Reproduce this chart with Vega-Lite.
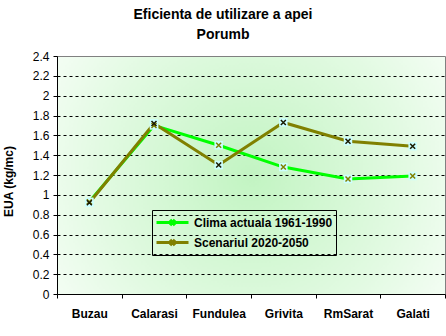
{
  "$schema": "https://vega.github.io/schema/vega-lite/v6.json",
  "autosize": "none",
  "width": 388,
  "height": 238,
  "padding": {"left": 57, "top": 56, "right": 1, "bottom": 42},
  "background": "white",
  "title": {
    "text": ["Eficienta de utilizare a apei", "Porumb"],
    "font": "Liberation Sans",
    "fontSize": 14,
    "fontWeight": "bold",
    "lineHeight": 20,
    "anchor": "middle",
    "dx": -28,
    "offset": 8,
    "color": "black"
  },
  "config": {
    "font": "Liberation Sans",
    "view": {
      "stroke": "#808080",
      "strokeWidth": 1,
      "fill": {
        "gradient": "radial",
        "x1": 0.5, "y1": 0.5, "x2": 0.5, "y2": 0.5,
        "r1": 0, "r2": 0.72,
        "stops": [
          {"offset": 0, "color": "#c2f4c2"},
          {"offset": 0.55, "color": "#e2fae2"},
          {"offset": 1, "color": "#ffffff"}
        ]
      }
    }
  },
  "data": {
    "values": [
      {"site": "Buzau", "series": "Clima actuala 1961-1990", "value": 0.93},
      {"site": "Calarasi", "series": "Clima actuala 1961-1990", "value": 1.70},
      {"site": "Fundulea", "series": "Clima actuala 1961-1990", "value": 1.50},
      {"site": "Grivita", "series": "Clima actuala 1961-1990", "value": 1.28},
      {"site": "RmSarat", "series": "Clima actuala 1961-1990", "value": 1.16},
      {"site": "Galati", "series": "Clima actuala 1961-1990", "value": 1.19},
      {"site": "Buzau", "series": "Scenariul 2020-2050", "value": 0.92},
      {"site": "Calarasi", "series": "Scenariul 2020-2050", "value": 1.72},
      {"site": "Fundulea", "series": "Scenariul 2020-2050", "value": 1.30},
      {"site": "Grivita", "series": "Scenariul 2020-2050", "value": 1.73},
      {"site": "RmSarat", "series": "Scenariul 2020-2050", "value": 1.54},
      {"site": "Galati", "series": "Scenariul 2020-2050", "value": 1.49}
    ]
  },
  "encoding": {
    "x": {
      "field": "site",
      "type": "nominal",
      "sort": null,
      "bandPosition": 0.5,
      "scale": {"type": "band", "paddingInner": 0, "paddingOuter": 0},
      "axis": {
        "title": null,
        "labelAngle": 0,
        "labelFont": "Liberation Sans",
        "labelFontSize": 12,
        "labelFontWeight": "bold",
        "labelColor": "black",
        "labelPadding": 10,
        "tickBand": "extent",
        "ticks": true,
        "tickSize": 4,
        "tickColor": "black",
        "domainColor": "black",
        "grid": false
      }
    },
    "y": {
      "field": "value",
      "type": "quantitative",
      "scale": {"domain": [0, 2.4], "nice": false},
      "axis": {
        "title": "EUA (kg/mc)",
        "titleFont": "Liberation Sans",
        "titleFontSize": 12,
        "titleFontWeight": "bold",
        "titleColor": "black",
        "titleX": -42,
        "titleY": 125,
        "values": [0, 0.2, 0.4, 0.6, 0.8, 1, 1.2, 1.4, 1.6, 1.8, 2, 2.2, 2.4],
        "format": ".2~f",
        "labelFont": "Liberation Sans",
        "labelFontSize": 12,
        "labelColor": "black",
        "labelPadding": 4,
        "tickSize": 4,
        "tickColor": "black",
        "domainColor": "black",
        "grid": true,
        "gridColor": "black",
        "gridDash": [3, 3],
        "gridOpacity": {"condition": {"test": "datum.value >= 2.39 || datum.value <= 0.01", "value": 0}, "value": 1}
      }
    }
  },
  "layer": [
    {
      "mark": {"type": "line", "strokeWidth": 3},
      "encoding": {
        "color": {
          "field": "series",
          "type": "nominal",
          "scale": {"domain": ["Clima actuala 1961-1990", "Scenariul 2020-2050"], "range": ["#00ff00", "#808000"]},
          "legend": {
            "title": null,
            "orient": "none",
            "legendX": 95,
            "legendY": 154,
            "strokeColor": "black",
            "padding": 3,
            "rowPadding": 1,
            "symbolType": "M-1,0H3M0.7,-0.35L1.3,0.35M0.7,0.35L1.3,-0.35",
            "symbolSize": 256,
            "symbolStrokeWidth": 3,
            "labelOffset": 20,
            "labelFont": "Liberation Sans",
            "labelFontSize": 12,
            "labelFontWeight": "bold",
            "labelColor": "black"
          }
        }
      }
    },
    {
      "mark": {"type": "square", "size": 72, "color": "#ccffff", "opacity": 1}
    },
    {
      "mark": {"type": "point", "shape": "M-1,-1L1,1M-1,1L1,-1", "size": 25, "filled": false, "strokeWidth": 1.5, "opacity": 1},
      "encoding": {
        "stroke": {
          "field": "series",
          "type": "nominal",
          "scale": {"domain": ["Clima actuala 1961-1990", "Scenariul 2020-2050"], "range": ["#808000", "#1a1a00"]},
          "legend": null
        }
      }
    }
  ]
}
